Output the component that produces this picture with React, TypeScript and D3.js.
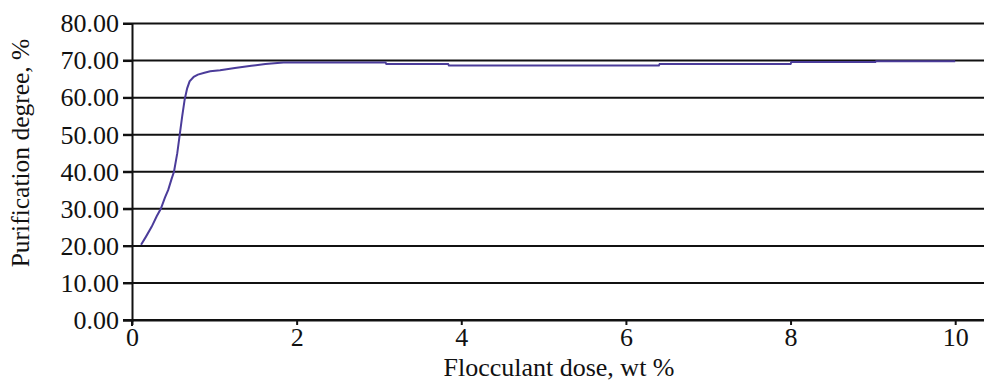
import * as d3 from 'd3';
import { useEffect, useRef } from "react";

// values
const dose = [0.11, 0.17, 0.24, 0.30, 0.35, 0.40, 0.44, 0.48, 0.51, 0.55, 0.58, 0.61, 0.64, 0.67, 0.70, 0.75, 0.80, 0.88, 0.95, 1.07, 1.25, 1.45, 1.62, 1.84, 3.08, 3.09, 3.84, 3.85, 6.40, 6.41, 8.00, 8.01, 9.03, 9.04, 10.0];
const purification = [20.3, 22.5, 25.2, 28.0, 30.0, 33.0, 35.1, 38.0, 40.0, 45.0, 50.0, 55.0, 59.5, 62.5, 64.4, 65.6, 66.2, 66.7, 67.1, 67.4, 68.0, 68.6, 69.1, 69.5, 69.5, 69.1, 69.1, 68.7, 68.7, 69.1, 69.1, 69.6, 69.6, 69.8, 69.8];
const xTicks = [0, 2, 4, 6, 8, 10];
const yTicks = [0, 10, 20, 30, 40, 50, 60, 70, 80];

const App = () => {
    const ref = useRef<SVGSVGElement>(null);

    useEffect(() => {
        const width = 984;
        const svg = d3.select(ref.current);
        svg.selectAll("*").remove();

        const x = d3.scaleLinear().domain([0, 10.35]).range([132, 984]);
        const y = d3.scaleLinear().domain([0, 80]).range([320, 23.5]);
        const font = "Liberation Serif";

        // gridlines
        svg.append("g")
            .selectAll("line")
            .data(yTicks)
            .enter().append("line")
            .attr("x1", 123)
            .attr("x2", width)
            .attr("y1", d => y(d))
            .attr("y2", d => y(d))
            .attr("stroke", "#111")
            .attr("stroke-width", 2);

        // y axis
        const yAxis = svg.append("g")
            .attr("transform", `translate(${x(0)},0)`)
            .call(d3.axisLeft(y).tickValues(yTicks).tickSize(9).tickPadding(4).tickFormat(d => d3.format(".2f")(d as number)));
        yAxis.attr("font-family", font).attr("font-size", 26);
        yAxis.select(".domain").attr("stroke", "#111").attr("stroke-width", 2);
        yAxis.selectAll(".tick line").attr("stroke", "#111").attr("stroke-width", 2);
        yAxis.selectAll("text").style("font-family", font).style("font-size", "26px").attr("fill", "#111");

        // x axis
        const xAxis = svg.append("g")
            .attr("transform", `translate(0,${y(0)})`)
            .call(d3.axisBottom(x).tickValues(xTicks).tickSize(5).tickPadding(3).tickSizeOuter(0));
        xAxis.attr("font-family", font).attr("font-size", 26);
        xAxis.select(".domain").attr("stroke", "#111").attr("stroke-width", 2);
        xAxis.selectAll(".tick line").attr("stroke", "#111").attr("stroke-width", 2);
        xAxis.selectAll("text").style("font-family", font).style("font-size", "26px").attr("fill", "#111");

        // y axis runs slightly below the x axis
        svg.append("line")
            .attr("x1", x(0)).attr("x2", x(0))
            .attr("y1", y(0)).attr("y2", y(0) + 6)
            .attr("stroke", "#111").attr("stroke-width", 2);

        const line = d3.line<number>()
            .x((d, i) => x(dose[i]))
            .y(d => y(d));

        svg.append("path")
            .datum(purification)
            .attr("d", line)
            .attr("fill", "none")
            .attr("stroke", "#4b3c9a")
            .attr("stroke-width", 2);

        svg.append("text")
            .attr("x", 559)
            .attr("y", 376)
            .attr("text-anchor", "middle")
            .style("font-family", font)
            .style("font-size", "26px")
            .attr("fill", "#111")
            .text("Flocculant dose, wt %");

        svg.append("text")
            .attr("transform", `translate(29,153) rotate(-90)`)
            .attr("text-anchor", "middle")
            .style("font-family", font)
            .style("font-size", "25.5px")
            .attr("fill", "#111")
            .text("Purification degree, %");
    }, []);

    return (
        <svg ref={ref} width={984} height={381} style={{ position: "absolute", left: 0, top: 0, background: "#fff", fontFamily: "Liberation Serif" }} />
    );
}

export default App;
